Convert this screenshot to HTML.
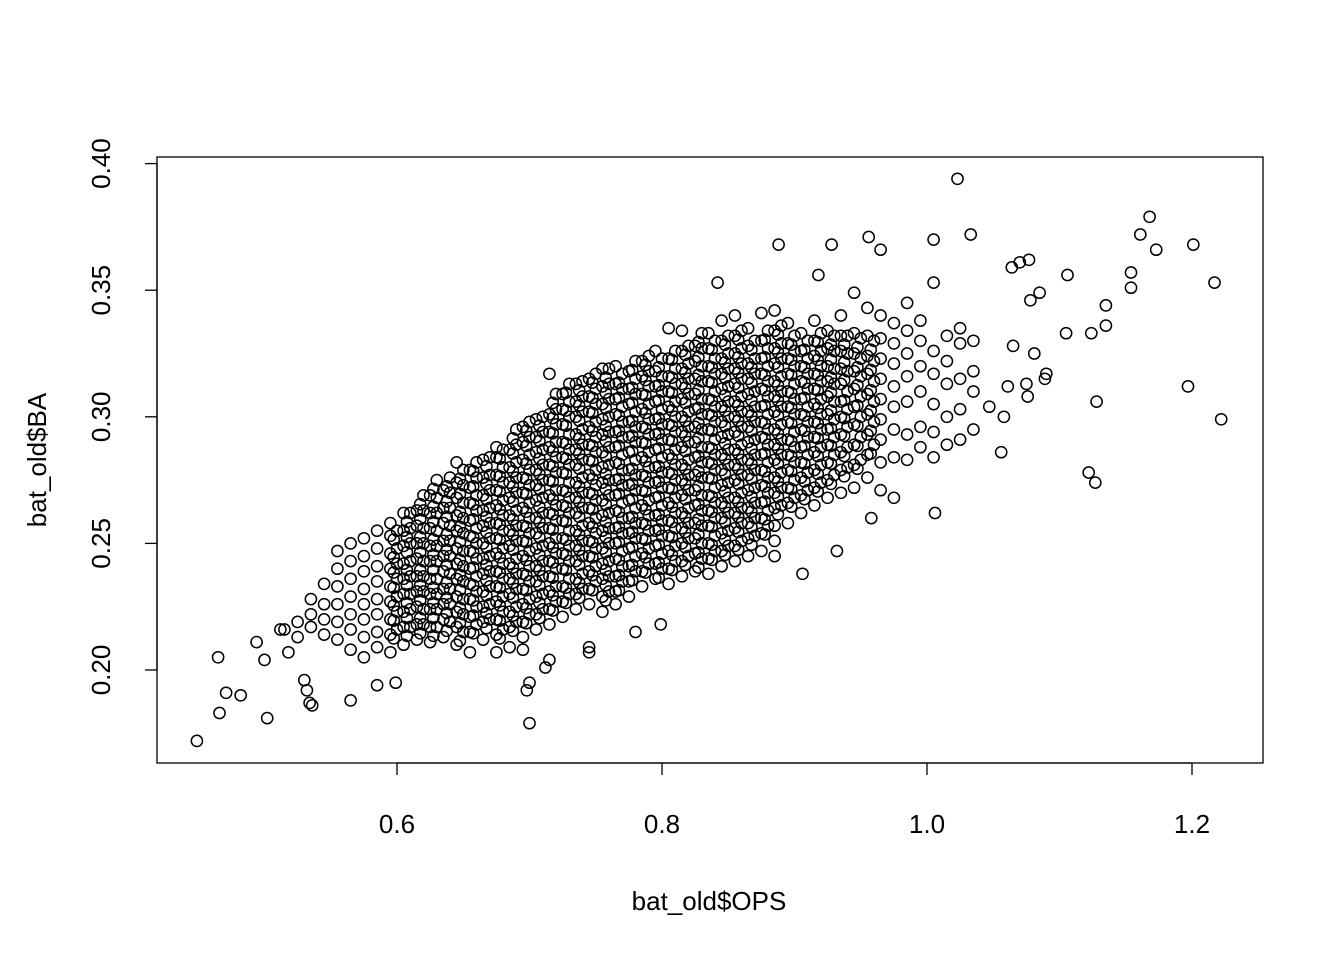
<!DOCTYPE html>
<html><head><meta charset="utf-8"><style>
html,body{margin:0;padding:0;background:#fff;}
svg{display:block;font-family:"Liberation Sans",Arial,sans-serif;}
</style></head><body>
<svg id="chart" width="1344" height="960">
<rect x="0" y="0" width="1344" height="960" fill="#fff"/>
<rect x="157" y="157" width="1106" height="606" fill="none" stroke="#000" stroke-width="1.3"/>
<g id="axes"></g>
<g id="points" fill="none" stroke="#000" stroke-width="1.5"></g>
<text x="709" y="910" font-size="26" text-anchor="middle">bat_old$OPS</text>
<text transform="translate(46,460) rotate(-90)" font-size="26" text-anchor="middle">bat_old$BA</text>
</svg>
<script>
const xTicks=[0.6,0.8,1.0,1.2];
const xTickLabels=["0.6","0.8","1.0","1.2"];
const yTicks=[0.20,0.25,0.30,0.35,0.40];
const yTickLabels=["0.20","0.25","0.30","0.35","0.40"];
const opsCols=[0.515,0.525,0.535,0.545,0.555,0.565,0.575,0.585,0.595,0.605,0.615,0.625,0.635,0.645,0.655,0.665,0.675,0.685,0.695,0.705,0.715,0.725,0.735,0.745,0.755,0.765,0.775,0.785,0.795,0.805,0.815,0.825,0.835,0.845,0.855,0.865,0.875,0.885,0.895,0.905,0.915,0.925,0.935,0.945,0.955,0.965,0.975,0.985,0.995,1.005,1.015,1.025,1.035];
const baCols=[
[0.216],
[0.213,0.219],
[0.217,0.222,0.228],
[0.214,0.220,0.226,0.234],
[0.212,0.219,0.226,0.233,0.240,0.247],
[0.208,0.216,0.222,0.229,0.236,0.243,0.250],
[0.205,0.213,0.220,0.226,0.232,0.239,0.245,0.252],
[0.209,0.215,0.222,0.228,0.235,0.241,0.248,0.255],
[0.207,0.214,0.220,0.227,0.233,0.240,0.246,0.253,0.258],
[0.210,0.217,0.223,0.230,0.236,0.242,0.249,0.255,0.262],
[0.212,0.218,0.225,0.231,0.237,0.244,0.250,0.257,0.263],
[0.211,0.217,0.224,0.230,0.236,0.243,0.249,0.256,0.262,0.269],
[0.213,0.220,0.226,0.232,0.239,0.245,0.251,0.258,0.264,0.271],
[0.210,0.217,0.223,0.229,0.236,0.242,0.248,0.255,0.261,0.268,0.274,0.282],
[0.207,0.215,0.221,0.228,0.234,0.240,0.247,0.253,0.259,0.266,0.272,0.279],
[0.212,0.219,0.225,0.231,0.238,0.244,0.250,0.257,0.263,0.269,0.276,0.283],
[0.207,0.214,0.220,0.227,0.233,0.239,0.246,0.252,0.258,0.265,0.271,0.277,0.284,0.288],
[0.209,0.217,0.223,0.230,0.236,0.242,0.249,0.255,0.261,0.268,0.274,0.280,0.287],
[0.208,0.213,0.219,0.226,0.232,0.238,0.245,0.251,0.257,0.264,0.270,0.276,0.283,0.290,0.296],
[0.216,0.222,0.229,0.235,0.241,0.248,0.254,0.260,0.267,0.273,0.279,0.286,0.292,0.299],
[0.204,0.218,0.224,0.231,0.237,0.243,0.250,0.256,0.262,0.269,0.275,0.281,0.288,0.294,0.301,0.317],
[0.221,0.227,0.233,0.240,0.246,0.252,0.259,0.265,0.271,0.278,0.284,0.290,0.297,0.303,0.309],
[0.224,0.230,0.236,0.243,0.249,0.255,0.262,0.268,0.274,0.281,0.287,0.293,0.300,0.306,0.313],
[0.207,0.226,0.232,0.239,0.245,0.251,0.258,0.264,0.270,0.277,0.283,0.289,0.296,0.302,0.308,0.315],
[0.223,0.229,0.236,0.242,0.248,0.255,0.261,0.267,0.274,0.280,0.286,0.293,0.299,0.305,0.312,0.319],
[0.226,0.231,0.237,0.244,0.250,0.256,0.263,0.269,0.275,0.282,0.288,0.294,0.301,0.307,0.313,0.320],
[0.229,0.235,0.241,0.248,0.254,0.260,0.267,0.273,0.279,0.286,0.292,0.298,0.305,0.311,0.318],
[0.233,0.239,0.246,0.252,0.258,0.265,0.271,0.277,0.284,0.290,0.296,0.303,0.309,0.316,0.322],
[0.236,0.242,0.249,0.255,0.261,0.268,0.274,0.280,0.287,0.293,0.299,0.306,0.312,0.318,0.326],
[0.234,0.240,0.247,0.253,0.259,0.266,0.272,0.278,0.285,0.291,0.297,0.304,0.310,0.316,0.323,0.335],
[0.237,0.243,0.250,0.256,0.262,0.269,0.275,0.281,0.288,0.294,0.300,0.307,0.313,0.319,0.326,0.334],
[0.239,0.246,0.252,0.258,0.265,0.271,0.277,0.284,0.290,0.296,0.303,0.309,0.315,0.322,0.328],
[0.238,0.244,0.250,0.257,0.263,0.269,0.276,0.282,0.288,0.295,0.301,0.307,0.314,0.320,0.327,0.333],
[0.241,0.247,0.254,0.260,0.266,0.273,0.279,0.285,0.292,0.298,0.304,0.311,0.317,0.323,0.330,0.338],
[0.243,0.249,0.256,0.262,0.268,0.275,0.281,0.287,0.294,0.300,0.306,0.313,0.319,0.325,0.332,0.340],
[0.245,0.252,0.258,0.264,0.271,0.277,0.283,0.290,0.296,0.302,0.309,0.315,0.321,0.328,0.335],
[0.247,0.254,0.260,0.266,0.273,0.279,0.285,0.292,0.298,0.304,0.311,0.317,0.323,0.330,0.341],
[0.245,0.251,0.257,0.264,0.270,0.276,0.283,0.289,0.295,0.302,0.308,0.314,0.321,0.327,0.334,0.342],
[0.258,0.266,0.272,0.279,0.285,0.291,0.298,0.304,0.310,0.317,0.323,0.329,0.337],
[0.262,0.269,0.276,0.282,0.288,0.295,0.301,0.307,0.314,0.320,0.326,0.333],
[0.265,0.272,0.279,0.286,0.292,0.298,0.305,0.311,0.317,0.324,0.330,0.338],
[0.268,0.275,0.282,0.289,0.295,0.301,0.308,0.314,0.320,0.327,0.334],
[0.270,0.279,0.286,0.293,0.300,0.306,0.313,0.319,0.326,0.332,0.340],
[0.272,0.281,0.289,0.297,0.304,0.311,0.318,0.325,0.333,0.349],
[0.276,0.285,0.293,0.301,0.309,0.317,0.324,0.332,0.343],
[0.271,0.282,0.291,0.299,0.307,0.315,0.323,0.331,0.340],
[0.268,0.284,0.295,0.304,0.312,0.321,0.329,0.337],
[0.283,0.293,0.306,0.316,0.325,0.334,0.345],
[0.288,0.296,0.310,0.320,0.330,0.338],
[0.284,0.294,0.305,0.317,0.326,0.353],
[0.289,0.300,0.313,0.322,0.332],
[0.291,0.303,0.315,0.329,0.335],
[0.295,0.310,0.318,0.330]
];
const opsCols2=[0.600,0.610,0.620,0.630,0.640,0.650,0.660,0.670,0.680,0.690,0.700,0.710,0.720,0.730,0.740,0.750,0.760,0.770,0.780,0.790,0.800,0.810,0.820,0.830,0.840,0.850,0.860,0.870,0.880,0.890,0.900,0.910,0.920,0.930,0.940,0.950,0.960];
const baCols2=[
[0.213,0.220,0.226,0.233,0.239,0.245,0.252],
[0.214,0.221,0.227,0.234,0.240,0.247,0.253,0.259],
[0.215,0.221,0.228,0.234,0.240,0.247,0.253,0.260,0.266],
[0.214,0.221,0.227,0.233,0.240,0.246,0.252,0.259,0.265,0.272],
[0.216,0.223,0.229,0.235,0.242,0.248,0.254,0.261,0.267,0.273],
[0.212,0.219,0.225,0.232,0.238,0.244,0.251,0.257,0.263,0.270,0.276],
[0.215,0.222,0.228,0.234,0.241,0.247,0.253,0.260,0.266,0.273,0.279],
[0.217,0.223,0.230,0.236,0.242,0.249,0.255,0.261,0.268,0.274,0.281],
[0.213,0.220,0.226,0.233,0.239,0.245,0.252,0.258,0.264,0.271,0.277,0.284],
[0.216,0.222,0.229,0.235,0.241,0.248,0.254,0.260,0.267,0.273,0.279,0.286,0.292],
[0.219,0.225,0.232,0.238,0.244,0.251,0.257,0.263,0.270,0.276,0.282,0.289,0.295],
[0.221,0.227,0.234,0.240,0.246,0.253,0.259,0.265,0.272,0.278,0.284,0.291,0.297],
[0.224,0.230,0.237,0.243,0.249,0.256,0.262,0.268,0.275,0.281,0.287,0.294,0.300,0.306],
[0.227,0.233,0.240,0.246,0.252,0.259,0.265,0.271,0.278,0.284,0.290,0.297,0.303,0.310],
[0.229,0.235,0.242,0.248,0.254,0.261,0.267,0.273,0.280,0.286,0.292,0.299,0.305,0.311],
[0.232,0.238,0.245,0.251,0.257,0.264,0.270,0.276,0.283,0.289,0.295,0.302,0.308,0.314],
[0.228,0.234,0.240,0.247,0.253,0.259,0.266,0.272,0.278,0.285,0.291,0.297,0.304,0.310,0.316],
[0.232,0.238,0.244,0.251,0.257,0.263,0.270,0.276,0.282,0.289,0.295,0.301,0.308,0.314],
[0.236,0.242,0.249,0.255,0.261,0.268,0.274,0.280,0.287,0.293,0.299,0.306,0.312,0.319],
[0.239,0.245,0.252,0.258,0.264,0.271,0.277,0.283,0.290,0.296,0.302,0.309,0.315,0.321],
[0.237,0.243,0.250,0.256,0.262,0.269,0.275,0.281,0.288,0.294,0.300,0.307,0.313,0.320],
[0.240,0.246,0.253,0.259,0.265,0.272,0.278,0.284,0.291,0.297,0.303,0.310,0.316,0.323],
[0.242,0.249,0.255,0.261,0.268,0.274,0.280,0.287,0.293,0.299,0.306,0.312,0.318,0.325],
[0.241,0.247,0.254,0.260,0.266,0.273,0.279,0.285,0.292,0.298,0.304,0.311,0.317,0.324,0.330],
[0.244,0.250,0.257,0.263,0.269,0.276,0.282,0.288,0.295,0.301,0.307,0.314,0.320,0.327],
[0.246,0.252,0.259,0.265,0.271,0.278,0.284,0.290,0.297,0.303,0.309,0.316,0.322,0.329],
[0.248,0.255,0.261,0.267,0.274,0.280,0.286,0.293,0.299,0.305,0.312,0.318,0.324,0.331],
[0.250,0.257,0.263,0.269,0.276,0.282,0.288,0.295,0.301,0.307,0.314,0.320,0.327],
[0.254,0.260,0.267,0.273,0.279,0.286,0.292,0.298,0.305,0.311,0.317,0.324,0.331],
[0.262,0.269,0.275,0.282,0.288,0.294,0.301,0.307,0.313,0.320,0.326,0.333],
[0.265,0.272,0.279,0.285,0.291,0.298,0.304,0.310,0.317,0.323,0.329],
[0.268,0.275,0.282,0.289,0.295,0.301,0.308,0.314,0.320,0.327],
[0.271,0.278,0.285,0.292,0.298,0.304,0.311,0.317,0.323,0.330],
[0.274,0.282,0.289,0.296,0.303,0.310,0.316,0.323,0.329],
[0.277,0.285,0.293,0.300,0.307,0.315,0.322,0.329],
[0.280,0.289,0.297,0.305,0.313,0.320,0.328],
[0.286,0.295,0.303,0.311,0.319,0.327]
];
const outOps=[0.449,0.465,0.466,0.471,0.482,0.494,0.500,0.502,0.512,0.518,0.530,0.532,0.534,0.536,0.565,0.585,0.599,0.700,0.698,0.700,0.712,0.745,0.780,0.799,1.023,0.888,0.928,0.956,0.965,1.005,1.033,1.168,1.161,1.173,1.201,1.217,1.154,1.154,1.135,1.135,1.124,1.106,1.105,1.128,1.197,1.222,1.122,1.127,1.056,1.006,0.932,0.906,0.842,0.918,0.958,1.070,1.077,1.064,1.085,1.078,1.065,1.075,1.076,1.089,1.090,1.081,1.058,1.047,1.061];
const outBa=[0.172,0.205,0.183,0.191,0.190,0.211,0.204,0.181,0.216,0.207,0.196,0.192,0.187,0.186,0.188,0.194,0.195,0.179,0.192,0.195,0.201,0.209,0.215,0.218,0.394,0.368,0.368,0.371,0.366,0.370,0.372,0.379,0.372,0.366,0.368,0.353,0.357,0.351,0.344,0.336,0.333,0.356,0.333,0.306,0.312,0.299,0.278,0.274,0.286,0.262,0.247,0.238,0.353,0.356,0.260,0.361,0.362,0.359,0.349,0.346,0.328,0.313,0.308,0.315,0.317,0.325,0.300,0.304,0.312];

const NS="http://www.w3.org/2000/svg";
function xs(v){return 397+(v-0.6)*1325;}
function ys(v){return 670-(v-0.2)*2532;}
const axes=document.getElementById('axes');
function mk(tag,attrs,parent){const e=document.createElementNS(NS,tag);for(const k in attrs)e.setAttribute(k,attrs[k]);parent.appendChild(e);return e;}
mk('line',{x1:xs(xTicks[0]),x2:xs(xTicks[xTicks.length-1]),y1:763,y2:763,stroke:'#000','stroke-width':1.3},axes);
mk('line',{x1:157,x2:157,y1:ys(yTicks[0]),y2:ys(yTicks[yTicks.length-1]),stroke:'#000','stroke-width':1.3},axes);
xTicks.forEach((t,i)=>{
  mk('line',{x1:xs(t),x2:xs(t),y1:763,y2:775,stroke:'#000','stroke-width':1.3},axes);
  const tx=mk('text',{x:xs(t),y:833,'font-size':26,'text-anchor':'middle'},axes);
  tx.textContent=xTickLabels[i];
  
  
});
yTicks.forEach((t,i)=>{
  mk('line',{x1:145,x2:157,y1:ys(t),y2:ys(t),stroke:'#000','stroke-width':1.3},axes);
  const tx=mk('text',{transform:`translate(110,${ys(t)}) rotate(-90)`,'font-size':26,'text-anchor':'middle'},axes);
  tx.textContent=yTickLabels[i];
  
  
});
const pg=document.getElementById('points');
function pt(a,b){
  const c=mk('circle',{cx:xs(a).toFixed(1),cy:ys(b).toFixed(1),r:5.6},pg);
  
  
}
opsCols.forEach((o,i)=>{baCols[i].forEach(b=>pt(o,b));});
opsCols2.forEach((o,i)=>{baCols2[i].forEach(b=>pt(o,b+0.003));});
opsCols2.forEach((o,i)=>{baCols2[i].forEach(b=>pt(o-0.0025,b-0.0005));});
outOps.forEach((o,i)=>pt(o,outBa[i]));
</script>
</body></html>
